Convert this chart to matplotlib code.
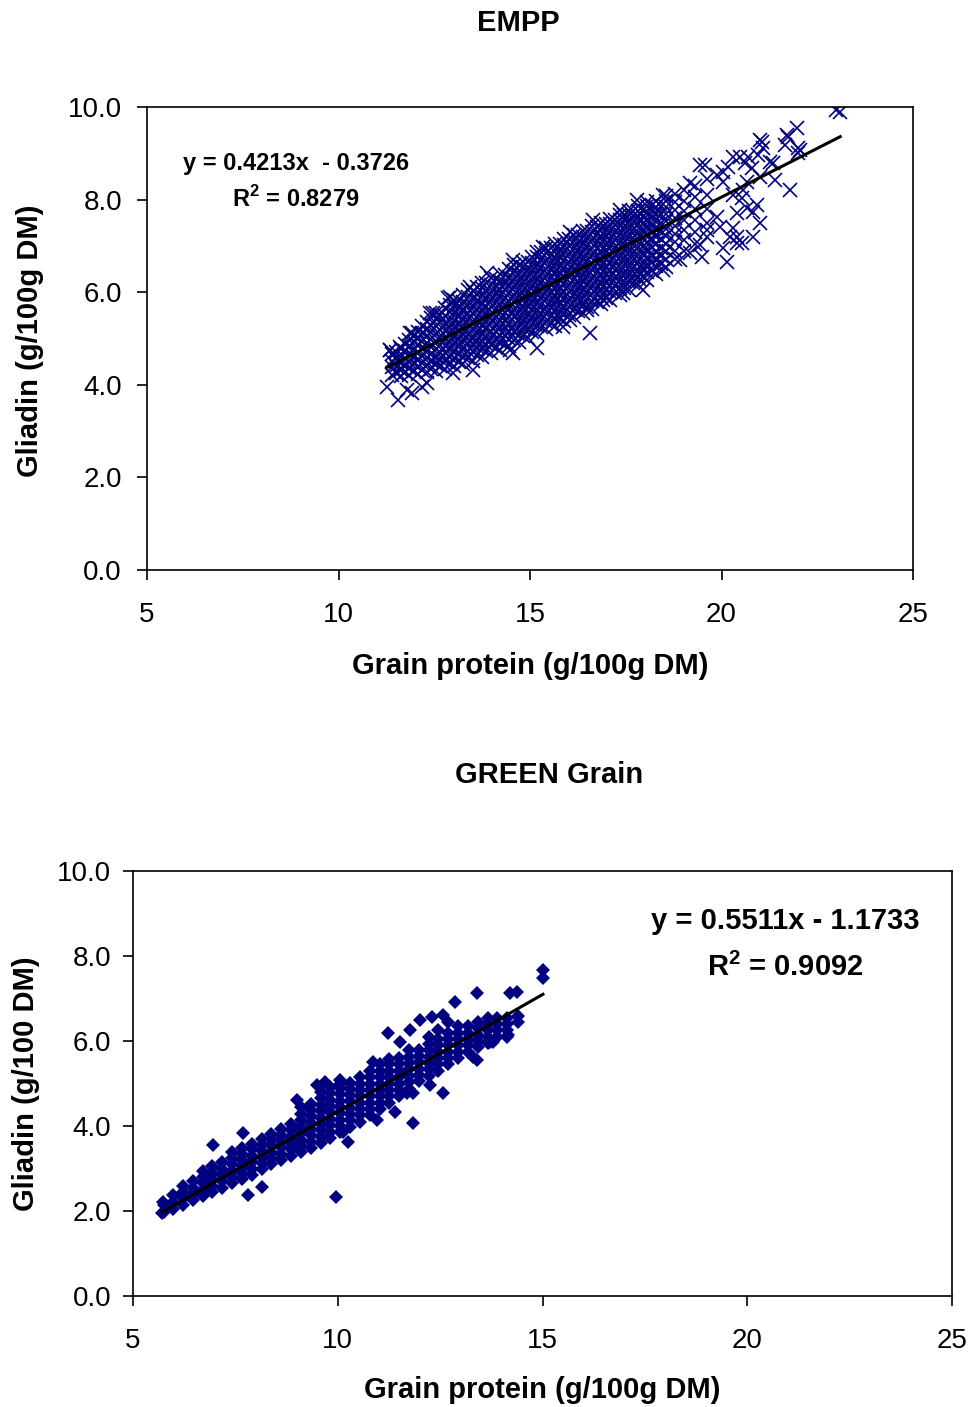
import matplotlib
matplotlib.use("Agg")
import matplotlib.pyplot as plt
import numpy as np

plt.rcParams['font.family'] = ['Liberation Sans', 'DejaVu Sans']
plt.rcParams['mathtext.fontset'] = 'custom'
plt.rcParams['mathtext.rm'] = 'Liberation Sans'
plt.rcParams['mathtext.bf'] = 'Liberation Sans:bold'

# ---------------- data: EMPP (top) ----------------
empp_col_x = [11.40, 11.62, 11.85, 12.08, 12.30, 12.55, 12.78, 13.02, 13.25, 13.50,
              13.74, 13.98, 14.22, 14.46, 14.70, 14.94, 15.18, 15.42, 15.66, 15.90,
              16.14, 16.38, 16.62, 16.86, 17.10, 17.34, 17.58, 17.82, 18.06, 18.30,
              18.54, 18.78, 19.02, 19.30, 19.62]
empp_col_y = [
    [4.22, 4.38, 4.52, 4.66],
    [4.18, 4.33, 4.47, 4.60, 4.78],
    [4.21, 4.36, 4.50, 4.66, 4.83, 4.97],
    [4.23, 4.40, 4.55, 4.71, 4.86, 5.02, 5.15],
    [4.27, 4.43, 4.58, 4.74, 4.90, 5.05, 5.21, 5.36],
    [4.30, 4.46, 4.61, 4.78, 4.94, 5.10, 5.26, 5.42, 5.55],
    [4.35, 4.52, 4.68, 4.84, 5.00, 5.16, 5.32, 5.48, 5.65],
    [4.40, 4.57, 4.73, 4.90, 5.06, 5.22, 5.38, 5.55, 5.71, 5.84],
    [4.46, 4.63, 4.80, 4.96, 5.12, 5.28, 5.45, 5.62, 5.78, 5.94],
    [4.52, 4.70, 4.86, 5.02, 5.19, 5.35, 5.52, 5.68, 5.85, 6.02],
    [4.60, 4.77, 4.93, 5.10, 5.26, 5.42, 5.59, 5.75, 5.92, 6.08, 6.20],
    [4.68, 4.85, 5.01, 5.17, 5.34, 5.50, 5.67, 5.83, 6.00, 6.15, 6.30],
    [4.75, 4.92, 5.08, 5.25, 5.41, 5.58, 5.74, 5.91, 6.07, 6.24, 6.40],
    [4.83, 5.00, 5.16, 5.33, 5.49, 5.66, 5.82, 5.99, 6.15, 6.32, 6.50],
    [4.92, 5.08, 5.25, 5.41, 5.58, 5.74, 5.91, 6.07, 6.24, 6.40, 6.58],
    [5.02, 5.18, 5.34, 5.50, 5.67, 5.83, 6.00, 6.16, 6.33, 6.49, 6.66],
    [5.10, 5.27, 5.43, 5.60, 5.76, 5.93, 6.09, 6.26, 6.42, 6.59, 6.76, 6.86],
    [5.20, 5.36, 5.52, 5.69, 5.85, 6.02, 6.18, 6.35, 6.51, 6.68, 6.84, 6.95],
    [5.28, 5.45, 5.61, 5.78, 5.94, 6.11, 6.27, 6.44, 6.60, 6.77, 6.93, 7.05],
    [5.38, 5.54, 5.70, 5.87, 6.03, 6.20, 6.36, 6.53, 6.69, 6.86, 7.02, 7.14],
    [5.46, 5.63, 5.79, 5.96, 6.12, 6.29, 6.45, 6.62, 6.78, 6.95, 7.11, 7.24],
    [5.56, 5.72, 5.88, 6.05, 6.21, 6.38, 6.54, 6.71, 6.87, 7.04, 7.20, 7.33],
    [5.64, 5.81, 5.97, 6.14, 6.30, 6.47, 6.63, 6.80, 6.96, 7.13, 7.29, 7.42],
    [5.74, 5.90, 6.06, 6.23, 6.39, 6.56, 6.72, 6.89, 7.05, 7.22, 7.38, 7.50],
    [5.84, 6.00, 6.16, 6.33, 6.49, 6.66, 6.82, 6.99, 7.15, 7.32, 7.47, 7.58],
    [5.94, 6.10, 6.26, 6.43, 6.59, 6.76, 6.92, 7.09, 7.25, 7.42, 7.56, 7.66],
    [6.05, 6.21, 6.37, 6.54, 6.70, 6.87, 7.03, 7.20, 7.36, 7.52, 7.66, 7.76],
    [6.16, 6.32, 6.48, 6.65, 6.81, 6.98, 7.14, 7.31, 7.47, 7.62, 7.76, 7.86],
    [6.27, 6.43, 6.60, 6.76, 6.93, 7.09, 7.26, 7.42, 7.58, 7.73, 7.86, 7.95],
    [6.40, 6.57, 6.73, 6.90, 7.06, 7.23, 7.39, 7.55, 7.70, 7.84, 7.98],
    [6.55, 6.71, 6.88, 7.04, 7.21, 7.37, 7.53, 7.68, 7.83, 7.97, 8.08],
    [6.72, 6.90, 7.08, 7.25, 7.42, 7.60, 7.78, 7.95, 8.12],
    [6.90, 7.12, 7.34, 7.55, 7.76, 7.98, 8.20],
    [7.05, 7.30, 7.55, 7.80, 8.05, 8.30],
    [7.20, 7.50, 7.80, 8.10, 8.45],
]
empp_col2_x = [11.51, 11.74, 11.97, 12.19, 12.42, 12.66, 12.90, 13.14, 13.38, 13.62,
               13.86, 14.10, 14.34, 14.58, 14.82, 15.06, 15.30, 15.54, 15.78, 16.02,
               16.26, 16.50, 16.74, 16.98, 17.22, 17.46, 17.70, 17.94, 18.18, 18.42]
empp_col2_y = [
    [4.26, 4.41, 4.55, 4.70],
    [4.27, 4.42, 4.57, 4.73, 4.88],
    [4.29, 4.45, 4.60, 4.76, 4.92, 5.06],
    [4.32, 4.48, 4.63, 4.79, 4.95, 5.11, 5.26],
    [4.35, 4.51, 4.66, 4.82, 4.98, 5.14, 5.30, 5.45],
    [4.40, 4.55, 4.71, 4.87, 5.03, 5.19, 5.35, 5.51],
    [4.45, 4.61, 4.77, 4.93, 5.09, 5.25, 5.41, 5.57, 5.73],
    [4.50, 4.67, 4.83, 4.99, 5.16, 5.32, 5.48, 5.65, 5.81],
    [4.57, 4.74, 4.90, 5.07, 5.23, 5.40, 5.56, 5.73, 5.89, 6.04],
    [4.64, 4.81, 4.97, 5.14, 5.30, 5.47, 5.63, 5.80, 5.96, 6.12],
    [4.72, 4.89, 5.05, 5.22, 5.38, 5.55, 5.71, 5.88, 6.04, 6.20],
    [4.80, 4.97, 5.13, 5.30, 5.46, 5.63, 5.79, 5.96, 6.12, 6.29],
    [4.88, 5.05, 5.21, 5.38, 5.54, 5.71, 5.87, 6.04, 6.20, 6.37],
    [4.96, 5.13, 5.29, 5.46, 5.62, 5.79, 5.95, 6.12, 6.28, 6.45, 6.58],
    [5.06, 5.22, 5.38, 5.55, 5.71, 5.88, 6.04, 6.21, 6.37, 6.54, 6.66],
    [5.14, 5.31, 5.47, 5.64, 5.80, 5.97, 6.13, 6.30, 6.46, 6.63, 6.76],
    [5.24, 5.40, 5.56, 5.73, 5.89, 6.06, 6.22, 6.39, 6.55, 6.72, 6.86],
    [5.32, 5.49, 5.65, 5.82, 5.98, 6.15, 6.31, 6.48, 6.64, 6.81, 6.96],
    [5.42, 5.58, 5.74, 5.91, 6.07, 6.24, 6.40, 6.57, 6.73, 6.90, 7.05],
    [5.50, 5.67, 5.83, 6.00, 6.16, 6.33, 6.49, 6.66, 6.82, 6.99, 7.14],
    [5.60, 5.76, 5.92, 6.09, 6.25, 6.42, 6.58, 6.75, 6.91, 7.08, 7.23],
    [5.68, 5.85, 6.01, 6.18, 6.34, 6.51, 6.67, 6.84, 7.00, 7.17, 7.32],
    [5.78, 5.94, 6.10, 6.27, 6.43, 6.60, 6.76, 6.93, 7.09, 7.26, 7.40],
    [5.88, 6.04, 6.20, 6.37, 6.53, 6.70, 6.86, 7.03, 7.19, 7.35, 7.48],
    [5.98, 6.14, 6.30, 6.47, 6.63, 6.80, 6.96, 7.13, 7.29, 7.45, 7.57],
    [6.08, 6.25, 6.41, 6.58, 6.74, 6.91, 7.07, 7.24, 7.40, 7.55, 7.66],
    [6.20, 6.36, 6.52, 6.69, 6.85, 7.02, 7.18, 7.35, 7.51, 7.65, 7.76],
    [6.32, 6.48, 6.64, 6.81, 6.97, 7.14, 7.30, 7.47, 7.63, 7.77],
    [6.45, 6.62, 6.78, 6.95, 7.11, 7.28, 7.44, 7.60, 7.75, 7.88],
    [6.60, 6.78, 6.96, 7.14, 7.32, 7.50, 7.68, 7.86],
]
empp_extra_x = [11.27, 11.55, 11.79, 11.92, 12.18, 11.34, 11.60, 11.92, 12.47, 12.86,
                13.51, 12.99, 12.31, 14.56, 14.48, 15.18, 15.86, 16.04, 16.57, 16.49,
                16.90, 17.43, 17.87, 17.95, 18.47, 18.92, 19.18, 19.50, 20.14, 19.44,
                20.04, 20.40, 20.53, 20.82, 20.40, 20.22, 20.30, 21.00, 20.82, 20.67,
                20.93, 19.62, 19.96, 19.88, 20.40, 20.53, 20.30, 20.56, 20.04, 20.67,
                19.88, 20.04, 21.00, 21.40, 21.79, 21.35, 21.27, 20.95, 20.70, 20.48,
                20.30, 20.17, 20.61, 20.80, 19.57, 19.44, 19.18, 21.06, 21.00, 21.08,
                21.66, 21.74, 21.70, 21.97, 22.00, 22.00, 22.05, 23.00, 23.10,
                18.47, 17.79, 17.35, 16.64, 16.04, 15.34, 14.56, 13.87, 13.43, 12.90,
                12.39, 11.87, 11.35]
empp_extra_y = [3.95, 3.67, 3.89, 3.82, 3.95, 4.75, 4.82, 5.12, 5.55, 5.87,
                4.32, 4.25, 4.04, 4.69, 4.75, 4.80, 5.25, 5.40, 5.12, 5.62,
                5.83, 5.98, 6.26, 6.05, 6.48, 6.70, 6.85, 6.76, 6.65, 7.02,
                6.95, 7.06, 7.06, 7.19, 7.19, 7.19, 7.38, 7.49, 7.73, 7.82,
                7.88, 7.34, 7.41, 7.62, 7.71, 8.03, 8.10, 8.20, 8.38, 8.38,
                8.53, 8.60, 8.49, 8.42, 8.20, 8.79, 8.81, 8.96, 8.92, 8.92,
                8.92, 8.70, 8.79, 8.68, 8.75, 8.75, 8.36, 9.24, 9.29, 9.11,
                9.18, 9.35, 9.40, 9.55, 9.11, 9.00, 9.07, 9.94, 9.90,
                8.10, 7.99, 7.78, 7.56, 7.30, 6.98, 6.70, 6.41, 6.11, 5.90,
                5.55, 5.12, 4.75]
empp_fit = (0.4213, -0.3726)
empp_r2 = 0.8279

# ---------------- data: GREEN Grain (bottom) ----------------
green_col_x = [5.75, 5.98, 6.22, 6.46, 6.70, 6.94, 7.18, 7.42, 7.66, 7.90,
               8.14, 8.38, 8.62, 8.86, 9.10, 9.34, 9.58, 9.82, 10.06, 10.30,
               10.54, 10.78, 11.02, 11.26, 11.50, 11.74, 11.98, 12.22, 12.46, 12.70,
               12.94, 13.18, 13.42, 13.66, 13.90, 14.14, 14.40]
green_col_y = [
    [1.98, 2.15],
    [2.05, 2.22, 2.38],
    [2.15, 2.30, 2.45, 2.58],
    [2.25, 2.40, 2.55, 2.70],
    [2.35, 2.50, 2.65, 2.80, 2.95],
    [2.45, 2.60, 2.75, 2.90, 3.05],
    [2.55, 2.70, 2.85, 3.00, 3.15],
    [2.65, 2.80, 2.95, 3.10, 3.25, 3.40],
    [2.75, 2.90, 3.05, 3.20, 3.35, 3.48],
    [2.85, 3.00, 3.15, 3.30, 3.45, 3.58],
    [2.98, 3.12, 3.27, 3.42, 3.56, 3.70],
    [3.10, 3.25, 3.40, 3.55, 3.70, 3.82],
    [3.20, 3.35, 3.50, 3.65, 3.80, 3.92],
    [3.30, 3.45, 3.60, 3.75, 3.90, 4.05],
    [3.38, 3.53, 3.68, 3.83, 3.98, 4.13, 4.28, 4.45],
    [3.48, 3.63, 3.78, 3.93, 4.08, 4.23, 4.38, 4.52],
    [3.60, 3.75, 3.90, 4.05, 4.20, 4.35, 4.50, 4.65, 4.80],
    [3.72, 3.87, 4.02, 4.17, 4.32, 4.47, 4.62, 4.77, 4.92],
    [3.85, 4.00, 4.15, 4.30, 4.45, 4.60, 4.75, 4.90, 5.00],
    [3.98, 4.13, 4.28, 4.43, 4.58, 4.73, 4.88, 5.02],
    [4.10, 4.25, 4.40, 4.55, 4.70, 4.85, 5.00, 5.15],
    [4.25, 4.40, 4.55, 4.70, 4.85, 5.00, 5.15, 5.30],
    [4.40, 4.55, 4.70, 4.85, 5.00, 5.15, 5.30, 5.45],
    [4.55, 4.70, 4.85, 5.00, 5.15, 5.30, 5.45, 5.58],
    [4.70, 4.85, 5.00, 5.15, 5.30, 5.45, 5.60],
    [4.88, 5.03, 5.18, 5.33, 5.48, 5.63, 5.78],
    [5.05, 5.20, 5.35, 5.50, 5.65, 5.80],
    [5.18, 5.33, 5.48, 5.63, 5.78, 5.93, 6.10],
    [5.30, 5.45, 5.60, 5.75, 5.90, 6.05, 6.25],
    [5.45, 5.60, 5.75, 5.90, 6.05, 6.20],
    [5.60, 5.75, 5.90, 6.05, 6.20, 6.35],
    [5.75, 5.90, 6.05, 6.20, 6.35],
    [5.85, 6.00, 6.15, 6.30, 6.45],
    [5.95, 6.10, 6.25, 6.40, 6.55],
    [6.10, 6.25, 6.40, 6.55],
    [6.25, 6.40, 6.55],
    [6.45, 6.60],
]
green_extra_x = [15.01, 15.01, 13.40, 14.20, 14.38, 12.86, 12.30, 12.57, 12.69, 12.00,
                 11.23, 11.52, 11.76, 10.86, 12.25, 12.57, 11.84, 11.40, 11.84, 13.40,
                 13.79, 14.13, 9.96, 9.49, 9.69, 10.05, 9.00, 7.69, 6.95, 7.81,
                 8.15, 5.73, 5.71, 10.25, 10.13, 10.96, 11.69, 13.30, 13.72, 14.16]
green_extra_y = [7.67, 7.48, 7.13, 7.13, 7.15, 6.92, 6.56, 6.61, 6.45, 6.49,
                 6.19, 5.98, 6.26, 5.50, 4.96, 4.78, 4.78, 4.33, 4.07, 5.55,
                 5.98, 6.09, 2.33, 4.96, 5.04, 5.08, 4.61, 3.84, 3.55, 2.38,
                 2.56, 2.21, 1.95, 3.62, 3.86, 4.14, 4.78, 5.62, 5.98, 6.14]
green_fit = (0.5511, -1.1733)
green_r2 = 0.9092

x_ticks = [5, 10, 15, 20, 25]
y_ticks = [0.0, 2.0, 4.0, 6.0, 8.0, 10.0]


def flatten(col_groups, ex_x, ex_y):
    xs, ys = [], []
    for col_x, col_y in col_groups:
        for cx, cys in zip(col_x, col_y):
            for yv in cys:
                xs.append(cx)
                ys.append(yv)
    xs += ex_x
    ys += ex_y
    return np.array(xs), np.array(ys)


NAVY = '#000080'
fig = plt.figure(figsize=(9.74, 14.07), dpi=100)

ax1 = fig.add_axes([147/974, 1-570/1407, 766/974, 463/1407])
ax2 = fig.add_axes([133/974, 1-1296/1407, 819/974, 425/1407])


def style(ax, xpad, ypad):
    ax.set_xlim(5, 25)
    ax.set_ylim(0, 10)
    ax.set_xticks(x_ticks)
    ax.set_yticks(y_ticks)
    ax.set_xticklabels([str(t) for t in x_ticks])
    ax.set_yticklabels([f"{t:.1f}" for t in y_ticks])
    ax.tick_params(axis='x', direction='out', length=7, width=1.2, labelsize=20, pad=xpad)
    ax.tick_params(axis='y', direction='out', length=7, width=1.2, labelsize=20, pad=ypad)
    for s in ax.spines.values():
        s.set_linewidth(1.2)
        s.set_color('black')


# top
x1, y1 = flatten([(empp_col_x, empp_col_y), (empp_col2_x, empp_col2_y)],
                 empp_extra_x, empp_extra_y)
ax1.plot(x1, y1, linestyle='none', marker='x', markersize=9.5, markeredgewidth=1.2,
         color=NAVY)
lx = np.array([x1.min(), x1.max()])
ax1.plot(lx, np.polyval(empp_fit, lx), color='black', linewidth=2.2)
style(ax1, 16, 11)
ax1.set_xlabel('Grain protein (g/100g DM)', fontsize=21, fontweight='bold')
ax1.set_ylabel('Gliadin (g/100g DM)', fontsize=21, fontweight='bold')
ax1.xaxis.set_label_coords(0.5, -0.178)
ax1.yaxis.set_label_coords(-0.134, 0.495)
ax1.text(0.1945, 0.877, f"y = {empp_fit[0]:.4f}x  - {abs(empp_fit[1]):.4f}",
         transform=ax1.transAxes, ha='center', va='center', fontsize=17, fontweight='bold')
ax1.text(0.1945, 0.801, r"R$^{\mathbf{2}}$" + f" = {empp_r2:.4f}",
         transform=ax1.transAxes, ha='center', va='center', fontsize=17, fontweight='bold')
fig.text(518/974, 1-23/1407, 'EMPP', ha='center', va='center', fontsize=21,
         fontweight='bold')

# bottom
x2, y2 = flatten([(green_col_x, green_col_y)], green_extra_x, green_extra_y)
ax2.plot(x2, y2, linestyle='none', marker='D', markersize=7, markeredgewidth=0,
         color=NAVY)
lx2 = np.array([x2.min(), x2.max()])
ax2.plot(lx2, np.polyval(green_fit, lx2), color='black', linewidth=2.2)
style(ax2, 16, 8.5)
ax2.set_xlabel('Grain protein (g/100g DM)', fontsize=21, fontweight='bold')
ax2.set_ylabel('Gliadin (g/100 DM)', fontsize=21, fontweight='bold')
ax2.xaxis.set_label_coords(0.5, -0.188)
ax2.yaxis.set_label_coords(-0.114, 0.499)
ax2.text(0.797, 0.883, f"y = {green_fit[0]:.4f}x - {abs(green_fit[1]):.4f}",
         transform=ax2.transAxes, ha='center', va='center', fontsize=21, fontweight='bold')
ax2.text(0.797, 0.774, r"R$^{\mathbf{2}}$" + f" = {green_r2:.4f}",
         transform=ax2.transAxes, ha='center', va='center', fontsize=21, fontweight='bold')
fig.text(549/974, 1-775/1407, 'GREEN Grain', ha='center', va='center', fontsize=21,
         fontweight='bold')

fig.savefig('out.png', dpi=100)
